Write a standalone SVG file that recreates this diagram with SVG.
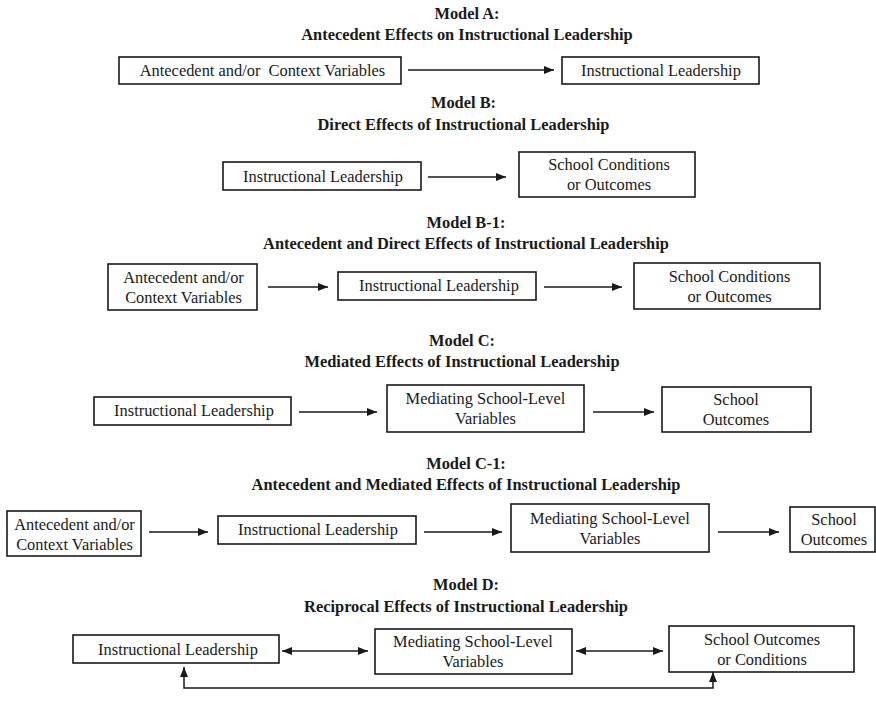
<svg xmlns="http://www.w3.org/2000/svg" width="876" height="713" viewBox="0 0 876 713">
<style>
  .box { fill: #ffffff; stroke: #1a1a1a; stroke-width: 1.6; }
  .lbl { font-family: "Liberation Serif", "Times New Roman", serif; font-size: 16.4px; fill: #1a1a1a; text-anchor: middle; white-space: pre; }
  .ttl { font-family: "Liberation Serif", "Times New Roman", serif; font-size: 16.4px; font-weight: bold; fill: #1a1a1a; text-anchor: middle; }
  .edge { fill: none; stroke: #1a1a1a; stroke-width: 1.5; }
</style>
<defs>
  <marker id="ah" markerUnits="userSpaceOnUse" markerWidth="10" markerHeight="8" refX="10" refY="4" orient="auto-start-reverse">
    <path d="M0,0 L10,4 L0,8 z" fill="#1a1a1a"/>
  </marker>
</defs>
<rect width="876" height="713" fill="#ffffff"/>

<g id="titles">
  <text class="ttl" x="467" y="19">Model A:</text>
  <text class="ttl" x="467" y="40">Antecedent Effects on Instructional Leadership</text>
  <text class="ttl" x="463.5" y="108">Model B:</text>
  <text class="ttl" x="463.5" y="130">Direct Effects of Instructional Leadership</text>
  <text class="ttl" x="466" y="228">Model B-1:</text>
  <text class="ttl" x="466" y="249">Antecedent and Direct Effects of Instructional Leadership</text>
  <text class="ttl" x="462" y="346">Model C:</text>
  <text class="ttl" x="462" y="367">Mediated Effects of Instructional Leadership</text>
  <text class="ttl" x="466" y="469">Model C-1:</text>
  <text class="ttl" x="466" y="490">Antecedent and Mediated Effects of Instructional Leadership</text>
  <text class="ttl" x="466" y="590">Model D:</text>
  <text class="ttl" x="466" y="612">Reciprocal Effects of Instructional Leadership</text>
</g>

<g id="connectors">
  <line class="edge" x1="408" y1="70" x2="554" y2="70" marker-end="url(#ah)"/>
  <line class="edge" x1="428" y1="177" x2="506" y2="177" marker-end="url(#ah)"/>
  <line class="edge" x1="268" y1="287" x2="328" y2="287" marker-end="url(#ah)"/>
  <line class="edge" x1="544" y1="287" x2="622" y2="287" marker-end="url(#ah)"/>
  <line class="edge" x1="299" y1="412" x2="377" y2="412" marker-end="url(#ah)"/>
  <line class="edge" x1="593" y1="412" x2="654" y2="412" marker-end="url(#ah)"/>
  <line class="edge" x1="149" y1="532" x2="208" y2="532" marker-end="url(#ah)"/>
  <line class="edge" x1="424" y1="532" x2="502" y2="532" marker-end="url(#ah)"/>
  <line class="edge" x1="718" y1="532" x2="779" y2="532" marker-end="url(#ah)"/>
  <line class="edge" x1="282" y1="651" x2="368" y2="651" marker-start="url(#ah)" marker-end="url(#ah)"/>
  <line class="edge" x1="576" y1="651" x2="663" y2="651" marker-start="url(#ah)" marker-end="url(#ah)"/>
  <polyline class="edge" points="184,667 184,688 713,688 713,672" marker-start="url(#ah)" marker-end="url(#ah)"/>
</g>

<g id="nA1"><rect class="box" x="119" y="57" width="282" height="27"/><text class="lbl" x="262.5" y="76">Antecedent and/or  Context Variables</text></g>
<g id="nA2"><rect class="box" x="562" y="57" width="197" height="27"/><text class="lbl" x="661" y="76">Instructional Leadership</text></g>

<g id="nB1"><rect class="box" x="223" y="162" width="198" height="28"/><text class="lbl" x="323" y="181.5">Instructional Leadership</text></g>
<g id="nB2"><rect class="box" x="519" y="152" width="176" height="45"/><text class="lbl" x="609" y="170">School Conditions</text><text class="lbl" x="609" y="190">or Outcomes</text></g>

<g id="nB11"><rect class="box" x="108" y="264" width="149" height="46"/><text class="lbl" x="183.5" y="283">Antecedent and/or</text><text class="lbl" x="183.5" y="303">Context Variables</text></g>
<g id="nB12"><rect class="box" x="338" y="272" width="198" height="28"/><text class="lbl" x="439" y="291">Instructional Leadership</text></g>
<g id="nB13"><rect class="box" x="634" y="263" width="186" height="46"/><text class="lbl" x="729.5" y="282">School Conditions</text><text class="lbl" x="729.5" y="302">or Outcomes</text></g>

<g id="nC1"><rect class="box" x="94" y="397" width="197" height="28"/><text class="lbl" x="194" y="416">Instructional Leadership</text></g>
<g id="nC2"><rect class="box" x="387" y="385" width="197" height="47"/><text class="lbl" x="485.5" y="404">Mediating School-Level</text><text class="lbl" x="485.5" y="424">Variables</text></g>
<g id="nC3"><rect class="box" x="662" y="387" width="149" height="45"/><text class="lbl" x="736" y="405">School</text><text class="lbl" x="736" y="425">Outcomes</text></g>

<g id="nC11"><rect class="box" x="7" y="511" width="134" height="45"/><text class="lbl" x="74.5" y="529.5">Antecedent and/or</text><text class="lbl" x="74.5" y="549.5">Context Variables</text></g>
<g id="nC12"><rect class="box" x="218" y="516" width="198" height="28"/><text class="lbl" x="318" y="535">Instructional Leadership</text></g>
<g id="nC13"><rect class="box" x="511" y="504" width="198" height="48"/><text class="lbl" x="610" y="523.5">Mediating School-Level</text><text class="lbl" x="610" y="543.5">Variables</text></g>
<g id="nC14"><rect class="box" x="790" y="507" width="85" height="45"/><text class="lbl" x="834" y="525">School</text><text class="lbl" x="834" y="545">Outcomes</text></g>

<g id="nD1"><rect class="box" x="73" y="635" width="206" height="28"/><text class="lbl" x="178" y="655">Instructional Leadership</text></g>
<g id="nD2"><rect class="box" x="375" y="629" width="197" height="45"/><text class="lbl" x="473" y="647">Mediating School-Level</text><text class="lbl" x="473" y="667">Variables</text></g>
<g id="nD3"><rect class="box" x="669" y="626" width="185" height="46"/><text class="lbl" x="762" y="645">School Outcomes</text><text class="lbl" x="762" y="665">or Conditions</text></g>
</svg>
